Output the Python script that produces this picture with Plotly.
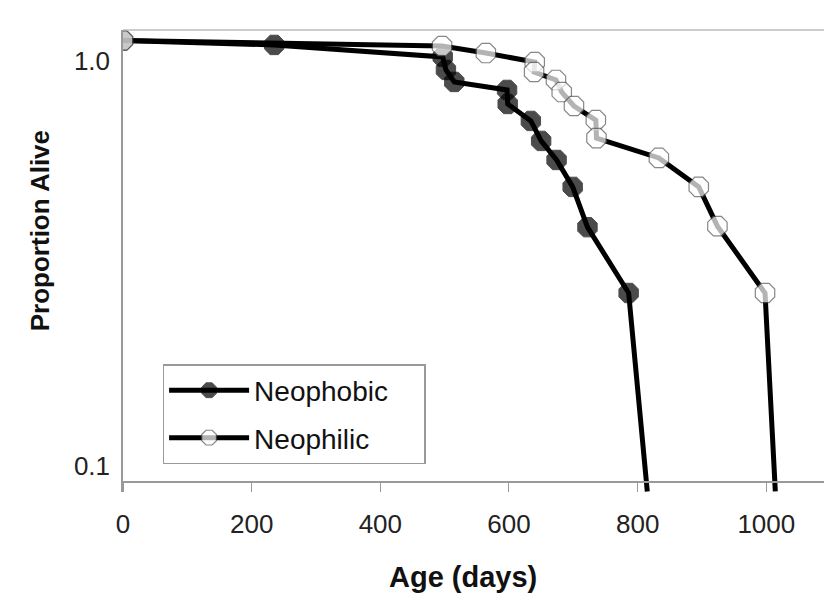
import plotly.graph_objects as go

# Neophobic group (age in days, proportion alive)
phobic_days = [0, 235, 497, 502, 515, 597, 598, 634, 650, 674, 699, 722, 786, 815]
phobic_alive = [1.0, 0.975, 0.911, 0.846, 0.790, 0.755, 0.697, 0.633, 0.565, 0.507, 0.435, 0.346, 0.238, 0.077]

# Neophilic group
philic_days = [0, 496, 564, 640, 639, 673, 682, 701, 735, 736, 833, 895, 924, 998, 1014]
philic_alive = [1.0, 0.969, 0.931, 0.885, 0.836, 0.799, 0.746, 0.689, 0.636, 0.574, 0.513, 0.435, 0.348, 0.238, 0.077]

x_ticks = [0, 200, 400, 600, 800, 1000]
y_ticks = [0.1, 1.0]
y_tick_text = ["0.1", "1.0"]

FONT = "Liberation Sans, Arial, sans-serif"
PAD = "\u00a0" * 4

fig = go.Figure()

fig.add_trace(go.Scatter(
    x=phobic_days, y=phobic_alive, name="Neophobic" + PAD,
    mode="lines+markers",
    line=dict(color="black", width=5),
    marker=dict(symbol="octagon", size=[21] * (len(phobic_days) - 1) + [0],
                color="black", line=dict(color="black", width=1)),
    legendgroup="a",
))
fig.add_trace(go.Scatter(
    x=philic_days, y=philic_alive, name="Neophilic" + PAD,
    mode="lines+markers",
    line=dict(color="black", width=5),
    marker=dict(symbol="octagon", size=[21] * (len(philic_days) - 1) + [0],
                color="white", line=dict(color="#555", width=1.2)),
    legendgroup="b",
))

fig.update_layout(
    width=824, height=590,
    margin=dict(l=115, r=0, t=22, b=106),
    paper_bgcolor="white", plot_bgcolor="white",
    font=dict(family=FONT, size=26, color="#222"),
    showlegend=True,
    legend=dict(
        x=0.056, y=0.277, xanchor="left", yanchor="top",
        bordercolor="#999", borderwidth=1.5, bgcolor="white",
        font=dict(size=28, color="#111"),
        tracegroupgap=8, itemwidth=80,
    ),
    xaxis=dict(
        range=[0, 1099], tickvals=x_ticks, ticks="outside", ticklen=9,
        tickcolor="#999", tickwidth=1.2, showline=True, linecolor="#999", linewidth=1.5,
        showgrid=False, zeroline=False, anchor="free", position=0.0216,
        ticklabelstandoff=10,
    ),
    yaxis=dict(
        type="log", range=[-1.1148, 0.0259], tickvals=y_ticks, ticktext=y_tick_text,
        ticks="", showline=True, linecolor="#999", linewidth=1.5, mirror=True,
        showgrid=False, zeroline=False, ticklabelshift=20, ticklabelstandoff=6,
    ),
    shapes=[
        dict(type="line", xref="paper", yref="paper", x0=0, x1=1, y0=1, y1=1,
             line=dict(color="#bbb", width=1.5)),
        dict(type="line", xref="paper", yref="paper", x0=-0.1685, x1=-0.1685, y0=0.8636, y1=-0.028,
             line=dict(color="#999", width=1.5)),
    ],
    annotations=[
        dict(text="<b>Age (days)</b>", xref="paper", yref="paper", x=0.481, y=-0.184,
             xanchor="center", yanchor="middle", showarrow=False,
             font=dict(size=29, color="#111")),
        dict(text="<b>Proportion Alive</b>", xref="paper", yref="paper", x=-0.117, y=0.565,
             xanchor="center", yanchor="middle", showarrow=False, textangle=-90,
             font=dict(size=26, color="#111")),
    ],
)

fig.write_html("out.html")
